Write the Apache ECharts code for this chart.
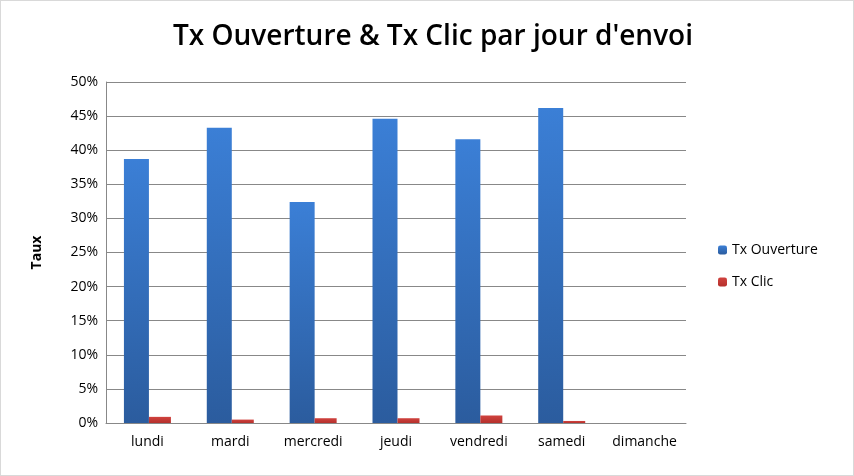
<!doctype html>
<html>
<head>
<meta charset="UTF-8">
<script src="https://cdn.jsdelivr.net/npm/echarts@6/dist/echarts.min.js"></script>
<style>
  html, body { margin: 0; padding: 0; background: #fff; }
  #chart { width: 852px; height: 474px; border: 1px solid #d9d9d9; }
</style>
</head>
<body>
<div id="chart"></div>
<script>
var jours = ['lundi', 'mardi', 'mercredi', 'jeudi', 'vendredi', 'samedi', 'dimanche'];
var txOuverture = [38.7, 43.3, 32.4, 44.6, 41.6, 46.2, 0];
var txClic = [0.9, 0.5, 0.7, 0.7, 1.1, 0.3, 0];

function grad(top, bottom) {
  return new echarts.graphic.LinearGradient(0, 0, 0, 1, [
    { offset: 0, color: top }, { offset: 1, color: bottom }
  ]);
}

var chart = echarts.init(document.getElementById('chart'));
chart.setOption({
  animation: false,
  textStyle: { fontFamily: 'Open Sans, Calibri, sans-serif' },
  title: {
    text: "Tx Ouverture & Tx Clic par jour d'envoi",
    left: 427, top: 17, textAlign: 'center',
    textStyle: { fontSize: 28, fontWeight: 600, color: '#000' }
  },
  legend: {
    orient: 'vertical', left: 712, top: 237, itemGap: 18,
    itemWidth: 9, itemHeight: 9,
    textStyle: { fontSize: 14, color: '#000' },
    data: ['Tx Ouverture', 'Tx Clic']
  },
  grid: { left: 105, right: 167, top: 81, bottom: 52 },
  xAxis: {
    type: 'category', data: jours,
    axisLine: { lineStyle: { color: '#888' } },
    axisTick: { show: false },
    axisLabel: { color: '#000', fontSize: 14, margin: 12, interval: 0 }
  },
  yAxis: {
    type: 'value', min: 0, max: 50, interval: 5,
    name: 'Taux', nameLocation: 'middle', nameGap: 62, nameRotate: 90,
    nameTextStyle: { fontSize: 14, fontWeight: 'bold', color: '#000' },
    axisLine: { show: true, lineStyle: { color: '#888' } },
    axisLabel: { formatter: '{value}%', color: '#000', fontSize: 14 },
    splitLine: { lineStyle: { color: '#888' } }
  },
  series: [
    { name: 'Tx Ouverture', type: 'bar', data: txOuverture, barWidth: 25, barGap: '0%',
      itemStyle: { color: grad('#3b7fd6', '#2b5c9e') } },
    { name: 'Tx Clic', type: 'bar', data: txClic, barWidth: 22,
      itemStyle: { color: grad('#d0423e', '#b5302c') } }
  ]
});
</script>
</body>
</html>
